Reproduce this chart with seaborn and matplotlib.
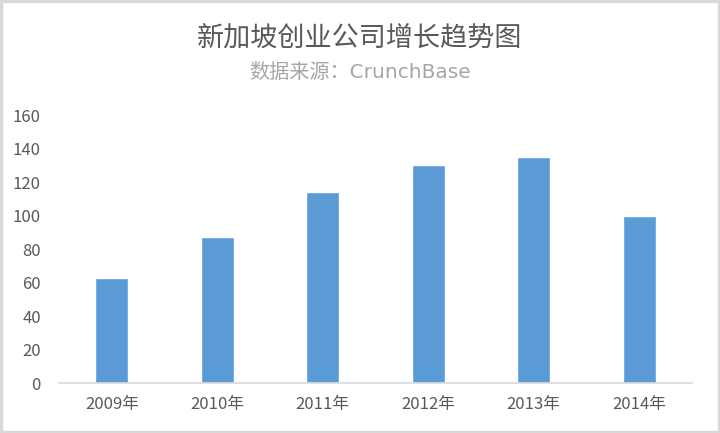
import matplotlib
matplotlib.use("Agg")
import matplotlib.pyplot as plt
import seaborn as sns
import pandas as pd
from matplotlib.patches import Rectangle

years = ["2009年", "2010年", "2011年", "2012年", "2013年", "2014年"]
counts = [63, 87, 114, 130, 135, 100]
title = "新加坡创业公司增长趋势图"
subtitle = "数据来源：CrunchBase"

sns.set_style("white")
plt.rcParams['font.family'] = ['Noto Sans CJK SC', 'DejaVu Sans']

df = pd.DataFrame({"year": years, "count": counts})

fig = plt.figure(figsize=(7.2, 4.33), dpi=100)
ax = fig.add_axes([0.082, 0.115, 0.879, 0.619])

sns.barplot(data=df, x="year", y="count", color="#5B9BD5", width=0.31,
            saturation=1, ax=ax)

ax.set_xlim(-0.5, 5.5)
ax.set_ylim(0, 160)
ax.set_yticks(range(0, 161, 20))
ax.set_xlabel("")
ax.set_ylabel("")

for s in ["top", "right", "left"]:
    ax.spines[s].set_visible(False)
ax.spines["bottom"].set_color("#d9d9d9")
ax.spines["bottom"].set_linewidth(1.2)

ax.tick_params(axis="y", length=0, pad=13, labelsize=12, labelcolor="#595959")
ax.tick_params(axis="x", length=0, pad=9, labelsize=12, labelcolor="#595959")

fig.text(0.5, 1 - 39 / 433, title, ha="center", va="center",
         fontsize=19.5, color="#595959")
# latin part of the subtitle is wide in the original, DejaVu is closer
fig.text(0.5, 1 - 72 / 433, subtitle, ha="center", va="center",
         fontsize=14.5, color="#a6a6a6",
         family=['DejaVu Sans', 'Noto Sans CJK SC'])

# light grey frame around the chart
fig.patches.append(Rectangle((0.002, 0.003), 0.996, 0.994, transform=fig.transFigure,
                             fill=False, edgecolor="#d9d9d9", linewidth=2.5))

fig.savefig("out.png", dpi=100)
